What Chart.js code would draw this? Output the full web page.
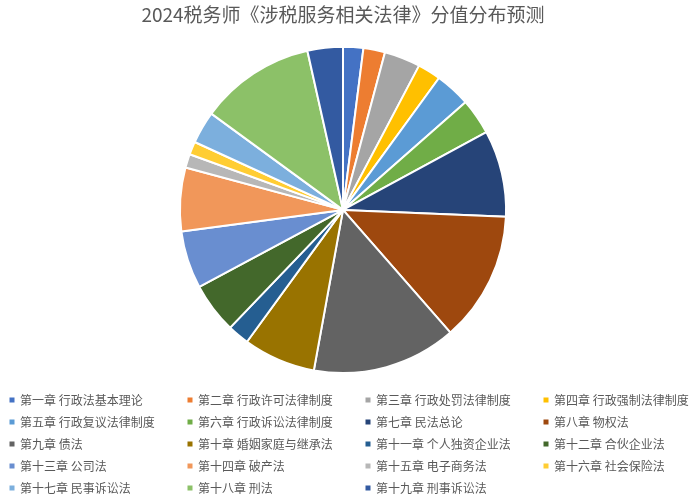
<!DOCTYPE html>
<html>
<head>
<meta charset="utf-8">
<script src="https://cdn.jsdelivr.net/npm/chart.js@4"></script>
<style>
html,body{margin:0;padding:0;background:#fff;}
#wrap{width:693px;height:500px;}
</style>
</head>
<body>
<div id="wrap"><canvas id="c" width="693" height="500"></canvas></div>
<script>
const titleText = "2024税务师《涉税服务相关法律》分值分布预测";
const categories = [
  "第一章 行政法基本理论","第二章 行政许可法律制度","第三章 行政处罚法律制度","第四章 行政强制法律制度",
  "第五章 行政复议法律制度","第六章 行政诉讼法律制度","第七章 民法总论","第八章 物权法",
  "第九章 债法","第十章 婚姻家庭与继承法","第十一章 个人独资企业法","第十二章 合伙企业法",
  "第十三章 公司法","第十四章 破产法","第十五章 电子商务法","第十六章 社会保险法",
  "第十七章 民事诉讼法","第十八章 刑法","第十九章 刑事诉讼法"
];
const values = [2.8, 3, 5, 3.2, 4.9, 5, 12, 18, 20, 10, 3, 7, 8, 8.8, 1.9, 1.8, 4.5, 16, 4.9];
const colors = [
  "#4472C4","#ED7D31","#A5A5A5","#FFC000","#5B9BD5","#70AD47","#264478","#9E480E",
  "#636363","#997300","#255E91","#43682B","#698ED0","#F1975A","#B7B7B7","#FFCD33",
  "#7CAFDD","#8CC168","#335AA1"
];
const legendCols = 4;

const gridLegend = {
  id: 'gridLegend',
  afterDraw(chart) {
    const ctx = chart.ctx;
    ctx.save();
    ctx.font = '12px "Noto Sans CJK SC", sans-serif';
    ctx.textBaseline = 'middle';
    const colX = [12, 190, 368, 546];
    const rowY0 = 400, rowH = 22;
    categories.forEach((name, i) => {
      const col = i % legendCols, row = Math.floor(i / legendCols);
      const x = colX[col], y = rowY0 + row * rowH;
      ctx.fillStyle = colors[i];
      ctx.fillRect(x - 2.5, y - 2.5, 5, 5);
      ctx.fillStyle = '#595959';
      ctx.fillText(name, x + 8, y);
    });
    ctx.restore();
  }
};

new Chart(document.getElementById('c'), {
  type: 'pie',
  data: {
    labels: categories,
    datasets: [{
      data: values,
      backgroundColor: colors,
      borderColor: '#ffffff',
      borderWidth: 2
    }]
  },
  options: {
    responsive: false,
    devicePixelRatio: 1,
    animation: false,
    layout: { padding: { top: 0, bottom: 126, left: 0, right: 7 } },
    plugins: {
      legend: { display: false },
      tooltip: { enabled: false },
      title: {
        display: true,
        text: titleText,
        color: '#595959',
        font: { size: 19, weight: 'normal', family: '"Noto Sans CJK SC", sans-serif' },
        padding: { top: 3, bottom: 20 }
      }
    }
  },
  plugins: [gridLegend]
});
</script>
</body>
</html>
